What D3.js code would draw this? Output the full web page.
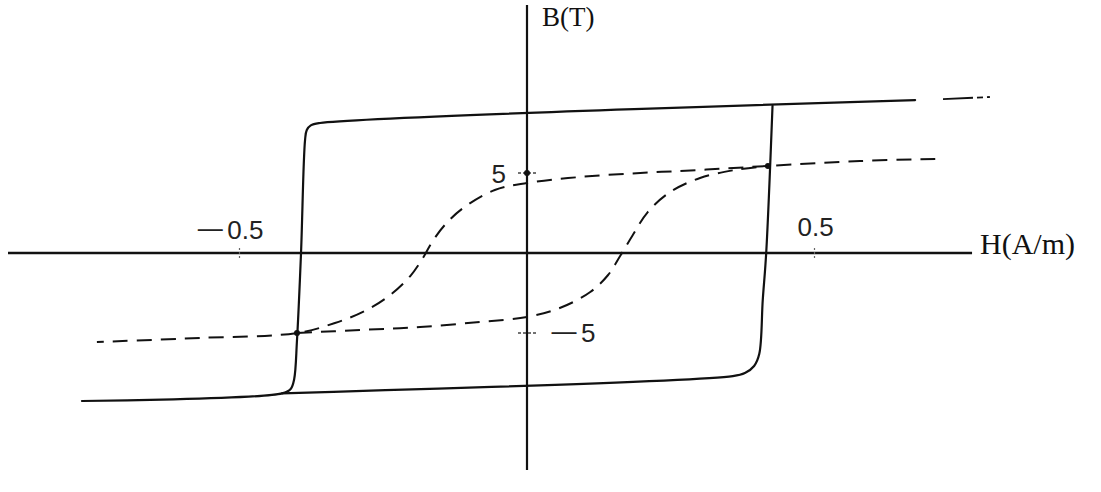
<!DOCTYPE html>
<html>
<head>
<meta charset="utf-8">
<script src="https://cdn.jsdelivr.net/npm/d3@7"></script>
<style>
  html, body { margin: 0; padding: 0; background: #fff; }
  svg { display: block; }
</style>
</head>
<body>
<svg id="chart" width="1101" height="492"></svg>
<script>
// Major hysteresis loop, descending branch: upper line, drop at -Hc, lower line
const majorDescending = [
  [0.675, 9.56], [-0.36, 8.125], [-0.376, 7.98], [-0.383, 7.69], [-0.386, 7.06],
  [-0.393, 0], [-0.400, -5.44], [-0.405, -7.9], [-0.411, -8.5], [-0.426, -8.77], [-0.774, -9.25]
];
// Major loop, ascending branch: lower line, rise at +Hc, join the upper line
const majorAscending = [
  [-0.426, -8.77], [0.358, -7.69], [0.379, -7.5], [0.395, -7.06], [0.404, -6.3],
  [0.410, -2.94], [0.416, 0], [0.427, 9.2]
];
// Dashed continuation of the saturated upper line
const majorExtension = [[0.7235, 9.62], [0.805, 9.75]];

// Minor loop, descending branch
const minorDescending = [
  [0.710, 5.875], [0.579, 5.75], [0.419, 5.44], [0.301, 5.19], [0.197, 5.0],
  [0.092, 4.75], [0, 4.375], [-0.056, 3.94], [-0.111, 2.81], [-0.143, 1.75],
  [-0.165, 0.69], [-0.181, -0.31], [-0.203, -1.44], [-0.238, -2.625],
  [-0.282, -3.625], [-0.334, -4.375], [-0.4, -5], [-0.569, -5.31], [-0.748, -5.56]
];
// Minor loop, ascending branch
const minorAscending = [
  [-0.4, -5], [-0.29, -4.81], [-0.186, -4.625], [-0.082, -4.31], [0, -4.0],
  [0.057, -3.44], [0.11, -2.44], [0.141, -1.375], [0.162, -0.19], [0.183, 1.06],
  [0.21, 2.56], [0.249, 3.81], [0.301, 4.69], [0.362, 5.19], [0.419, 5.44]
];

// Marked points where curves meet
const markedPoints = [[0, 5], [0.419, 5.44], [-0.4, -5]];

// Axis ticks
const xTickValues = [-0.5, 0.5];
const xTickLabels = ["0.5", "0.5"];
const xTickSigns = ["\u2212", ""];
const yTickValues = [5, -5];
const yTickLabels = ["5", "5"];
const yTickSigns = ["", "\u2212"];

// Axis extents
const hExtent = [-0.9026, 0.774];
const bExtent = [-13.56, 15.5];

const svg = d3.select("#chart");
const ink = "#111";

const x = d3.scaleLinear().domain([-0.5, 0.5]).range([239.5, 814.5]);
const y = d3.scaleLinear().domain([-5, 5]).range([333, 173]);

const line = d3.line()
  .x(d => x(d[0]))
  .y(d => y(d[1]))
  .curve(d3.curveCatmullRom.alpha(0.5));

// Axes
svg.append("line")
  .attr("x1", x(hExtent[0])).attr("x2", x(hExtent[1]))
  .attr("y1", y(0)).attr("y2", y(0))
  .attr("stroke", ink).attr("stroke-width", 2.6);
svg.append("line")
  .attr("x1", x(0)).attr("x2", x(0))
  .attr("y1", y(bExtent[1])).attr("y2", y(bExtent[0]))
  .attr("stroke", ink).attr("stroke-width", 2.2);

// Tick marks
svg.selectAll(".xtick").data(xTickValues).enter().append("line")
  .attr("x1", d => x(d)).attr("x2", d => x(d))
  .attr("y1", y(0) - 5).attr("y2", y(0) + 6)
  .attr("stroke", "#666").attr("stroke-width", 1.2)
  .attr("stroke-dasharray", "2,2");
svg.selectAll(".ytick").data(yTickValues).enter().append("line")
  .attr("x1", x(0) - 9).attr("x2", x(0) + 9)
  .attr("y1", d => y(d)).attr("y2", d => y(d))
  .attr("stroke", "#444").attr("stroke-width", 1.4)
  .attr("stroke-dasharray", "3,2");

// Tick labels; the minus sign is stretched into a long dash
const numFont = "'Liberation Sans', Arial, sans-serif";
function tickLabel(px, py, anchor, sign, digits) {
  const t = svg.append("text").attr("x", px).attr("y", py)
    .attr("text-anchor", anchor).attr("font-family", numFont)
    .attr("font-size", 26).attr("fill", "#222");
  if (sign) {
    t.append("tspan").attr("textLength", 30)
      .attr("lengthAdjust", "spacingAndGlyphs").text(sign);
    t.append("tspan").attr("dx", 2).text(digits);
  } else {
    t.append("tspan").text(digits);
  }
}
tickLabel(x(xTickValues[0]) + 24, y(0) - 14, "end", xTickSigns[0], xTickLabels[0]);
tickLabel(x(xTickValues[1]) - 17, y(0) - 17, "start", xTickSigns[1], xTickLabels[1]);
tickLabel(x(0) - 21, y(yTickValues[0]) + 10, "end", yTickSigns[0], yTickLabels[0]);
tickLabel(x(0) + 22, y(yTickValues[1]) + 9, "start", yTickSigns[1], yTickLabels[1]);

// Axis titles
const titleFont = "'Liberation Serif', 'Times New Roman', serif";
svg.append("text").attr("x", x(0) + 15).attr("y", 26)
  .attr("font-family", titleFont).attr("font-size", 27).attr("fill", ink)
  .text("B(T)");
svg.append("text").attr("x", 980).attr("y", y(0) + 1)
  .attr("font-family", titleFont).attr("font-size", 30).attr("fill", ink)
  .text("H(A/m)");

// Major loop (solid)
[majorDescending, majorAscending].forEach(branch => {
  svg.append("path").attr("d", line(branch))
    .attr("fill", "none").attr("stroke", ink).attr("stroke-width", 2.2)
    .attr("stroke-linejoin", "round").attr("stroke-linecap", "round");
});
svg.append("path").attr("d", line(majorExtension))
  .attr("fill", "none").attr("stroke", ink).attr("stroke-width", 1.8)
  .attr("stroke-dasharray", "30,4,6,4");

// Minor loop (dashed)
[minorDescending, minorAscending].forEach(branch => {
  svg.append("path").attr("d", line(branch))
    .attr("fill", "none").attr("stroke", ink).attr("stroke-width", 2)
    .attr("stroke-dasharray", "15,9");
});

// Intersection dots
svg.selectAll(".dot").data(markedPoints).enter().append("circle")
  .attr("cx", d => x(d[0])).attr("cy", d => y(d[1])).attr("r", 3)
  .attr("fill", ink);
</script>
</body>
</html>
